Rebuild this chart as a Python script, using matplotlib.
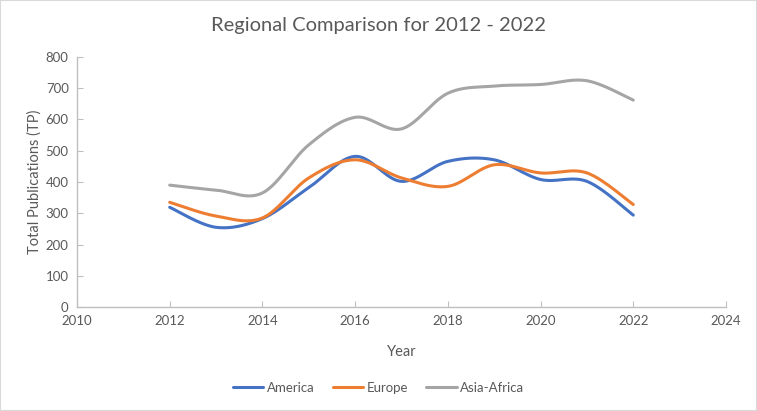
import numpy as np
import matplotlib
matplotlib.use("Agg")
import matplotlib.pyplot as plt
from matplotlib.patches import Rectangle

years = [2012, 2013, 2014, 2015, 2016, 2017, 2018, 2019, 2020, 2021, 2022]
america = [319, 255, 283, 382, 482, 402, 466, 471, 408, 402, 294]
europe = [335, 291, 285, 413, 471, 413, 386, 455, 429, 429, 328]
asia_africa = [390, 374, 365, 519, 607, 570, 684, 707, 712, 724, 662]
series_names = ["America", "Europe", "Asia-Africa"]
colors = ["#4472C4", "#ED7D31", "#A5A5A5"]

x_ticks = [2010, 2012, 2014, 2016, 2018, 2020, 2022, 2024]
y_ticks = [0, 100, 200, 300, 400, 500, 600, 700, 800]


def smooth(xs, ys, n=40):
    xs = np.asarray(xs, float)
    ys = np.asarray(ys, float)
    P = np.column_stack([xs, ys])
    Pe = np.vstack([P[0], P, P[-1]])
    out = []
    t = np.linspace(0, 1, n)[:, None]
    for i in range(len(P) - 1):
        p0, p1, p2, p3 = Pe[i], Pe[i + 1], Pe[i + 2], Pe[i + 3]
        c1 = p1 + (p2 - p0) / 6.0
        c2 = p2 - (p3 - p1) / 6.0
        seg = ((1 - t) ** 3) * p1 + 3 * ((1 - t) ** 2) * t * c1 + 3 * (1 - t) * t ** 2 * c2 + t ** 3 * p2
        out.append(seg if i == 0 else seg[1:])
    arr = np.vstack(out)
    return arr[:, 0], arr[:, 1]


plt.rcParams['font.family'] = ['Lato', 'DejaVu Sans']
text_color = "#595959"

fig = plt.figure(figsize=(7.57, 4.11), dpi=100)
ax = fig.add_axes([77 / 757, 1 - 307 / 411, (726 - 77) / 757, (307 - 57) / 411])

for vals, name, c in zip([america, europe, asia_africa], series_names, colors):
    sx, sy = smooth(years, vals)
    ax.plot(sx, sy, color=c, lw=2.2, label=name, solid_capstyle='round')

ax.set_xlim(2010, 2024)
ax.set_ylim(0, 800)
ax.set_xticks(x_ticks)
ax.set_yticks(y_ticks)
ax.tick_params(axis='both', direction='in', length=4, color="#BFBFBF",
               labelcolor=text_color, labelsize=9.5, pad=6)
for s in ['top', 'right']:
    ax.spines[s].set_visible(False)
for s in ['left', 'bottom']:
    ax.spines[s].set_color("#BFBFBF")
    ax.spines[s].set_linewidth(1)

ax.set_xlabel("Year", color=text_color, fontsize=10.5, labelpad=13)
ax.set_ylabel("Total Publications (TP)", color=text_color, fontsize=10.5, labelpad=3)
fig.text(0.5, 1 - 25 / 411, "Regional Comparison for 2012 - 2022", ha='center', va='center',
         color=text_color, fontsize=14.5)

leg = fig.legend(loc='center', bbox_to_anchor=(0.5, 1 - 388 / 411), ncol=3, frameon=False,
                 fontsize=9.5, handlelength=2.3, columnspacing=1.4, handletextpad=0.25)
for t in leg.get_texts():
    t.set_color(text_color)

fig.patches.append(Rectangle((0, 0), 1, 1, transform=fig.transFigure, fill=False,
                             edgecolor="#D9D9D9", lw=1.5))

fig.savefig("out.png", dpi=100)
